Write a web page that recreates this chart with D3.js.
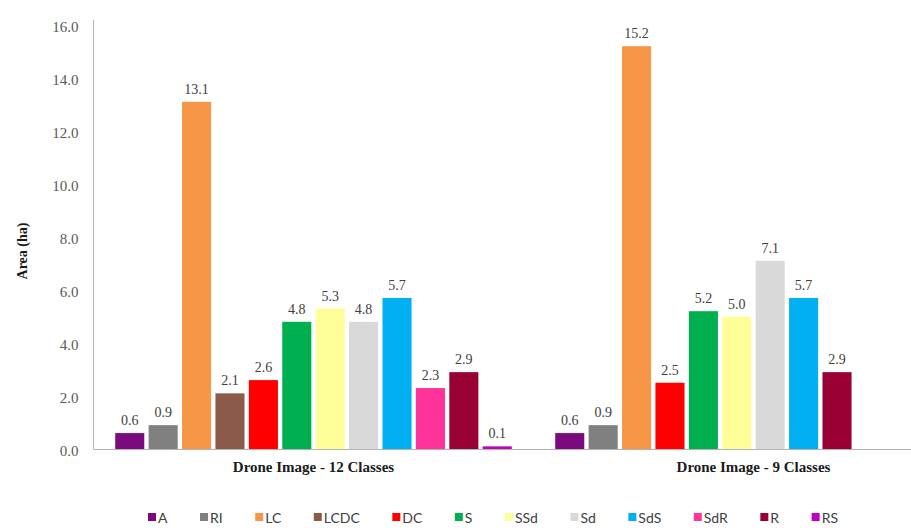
<!DOCTYPE html>
<html>
<head>
<meta charset="utf-8">
<script src="https://cdn.jsdelivr.net/npm/d3@7"></script>
<style>
  html, body { margin: 0; padding: 0; background: #fff; }
  svg { display: block; }
  .serif { font-family: "Liberation Serif", "Times New Roman", serif; }
  .legend text { font-family: Lato, "Open Sans", sans-serif; }
</style>
</head>
<body>
<svg id="chart" width="911" height="530"></svg>
<script>
// Land-cover classes and their bar colours
const classes = ["A", "RI", "LC", "LCDC", "DC", "S", "SSd", "Sd", "SdS", "SdR", "R", "RS"];
const classColors = ["#7b0a7e", "#808080", "#f79646", "#8c5a4b", "#ff0000", "#00b050",
                     "#ffff99", "#d9d9d9", "#00b0f0", "#ff3399", "#990033", "#c000c0"];

// Two classification schemes
const groups = ["Drone Image - 12 Classes", "Drone Image - 9 Classes"];

// Area (ha) per class in each scheme
const classes12 = ["A", "RI", "LC", "LCDC", "DC", "S", "SSd", "Sd", "SdS", "SdR", "R", "RS"];
const areas12   = [0.6, 0.9, 13.1, 2.1, 2.6, 4.8, 5.3, 4.8, 5.7, 2.3, 2.9, 0.1];
const classes9  = ["A", "RI", "LC", "DC", "S", "SSd", "Sd", "SdS", "R"];
const areas9    = [0.6, 0.9, 15.2, 2.5, 5.2, 5.0, 7.1, 5.7, 2.9];

// Y axis ticks
const yTicks = [0, 2, 4, 6, 8, 10, 12, 14, 16];

const svg = d3.select("#chart");
const color = d3.scaleOrdinal().domain(classes).range(classColors);

const groupData = [
  { name: groups[0], items: classes12.map((c, i) => ({ cls: c, value: areas12[i], slot: i })) },
  { name: groups[1], items: classes9.map((c, i) => ({ cls: c, value: areas9[i], slot: i })) }
];

// Scales
const y = d3.scaleLinear().domain([0, 16]).range([449, 25]);
const x0 = d3.scaleBand().domain(groups).range([93.5, 973.5]).padding(0);
const x1 = d3.scaleBand().domain(d3.range(classes.length))
  .range([0, x0.bandwidth()]).paddingInner(0.13).paddingOuter(0.65);

// Y axis: labels only plus a thin vertical line
const yAxis = d3.axisLeft(y).tickValues(yTicks).tickFormat(d3.format(".1f")).tickSize(0).tickPadding(15);
const gy = svg.append("g").attr("transform", `translate(${x0.range()[0]},0)`).call(yAxis);
gy.select(".domain").remove();
gy.selectAll("text")
  .attr("class", "serif")
  .attr("font-family", "Liberation Serif, Times New Roman, serif")
  .attr("font-size", 15)
  .attr("fill", "#595959")
  .attr("dy", "0.4em");

svg.append("line")
  .attr("x1", x0.range()[0]).attr("x2", x0.range()[0])
  .attr("y1", y(16) - 5).attr("y2", y(0))
  .attr("stroke", "#b3b3b3").attr("stroke-width", 1);

// Bars per group
const g = svg.append("g").selectAll("g.group")
  .data(groupData).join("g")
  .attr("class", "group")
  .attr("transform", d => `translate(${x0(d.name)},0)`);

g.selectAll("rect")
  .data(d => d.items).join("rect")
  .attr("x", d => x1(d.slot))
  .attr("width", x1.bandwidth())
  .attr("y", d => y(d.value))
  .attr("height", d => y(0) - y(d.value))
  .attr("fill", d => color(d.cls));

// Value labels above bars
g.selectAll("text.val")
  .data(d => d.items).join("text")
  .attr("class", "val serif")
  .attr("x", d => x1(d.slot) + x1.bandwidth() / 2)
  .attr("y", d => y(d.value) - 8)
  .attr("text-anchor", "middle")
  .attr("font-size", 14)
  .attr("fill", "#404040")
  .text(d => d.value.toFixed(1));

// Baseline
svg.append("line")
  .attr("x1", x0.range()[0]).attr("x2", 911)
  .attr("y1", y(0) + 0.5).attr("y2", y(0) + 0.5)
  .attr("stroke", "#b3b3b3").attr("stroke-width", 1.2);

// Category labels
svg.append("g").selectAll("text")
  .data(groups).join("text")
  .attr("class", "serif")
  .attr("x", d => x0(d) + x0.bandwidth() / 2)
  .attr("y", 472)
  .attr("text-anchor", "middle")
  .attr("font-size", 15)
  .attr("font-weight", "bold")
  .attr("fill", "#1a1a1a")
  .text(d => d);

// Y axis title
svg.append("text")
  .attr("class", "serif")
  .attr("transform", `translate(27,${(y(16) + y(0)) / 2 + 14}) rotate(-90)`)
  .attr("text-anchor", "middle")
  .attr("font-size", 14)
  .attr("font-weight", "bold")
  .attr("fill", "#1a1a1a")
  .text("Area (ha)");

// Legend: one row, items laid out by measured text width
const legend = svg.append("g").attr("class", "legend");
let cursor = 148;
classes.forEach(c => {
  const item = legend.append("g").attr("transform", `translate(${cursor},0)`);
  item.append("rect")
    .attr("x", 0).attr("y", 513).attr("width", 8).attr("height", 8)
    .attr("fill", color(c));
  const t = item.append("text")
    .attr("x", 10).attr("y", 522.5)
    .attr("font-size", 14)
    .attr("fill", "#404040")
    .text(c);
  cursor += 10 + t.node().getComputedTextLength() + 32.5;
});
</script>
</body>
</html>
